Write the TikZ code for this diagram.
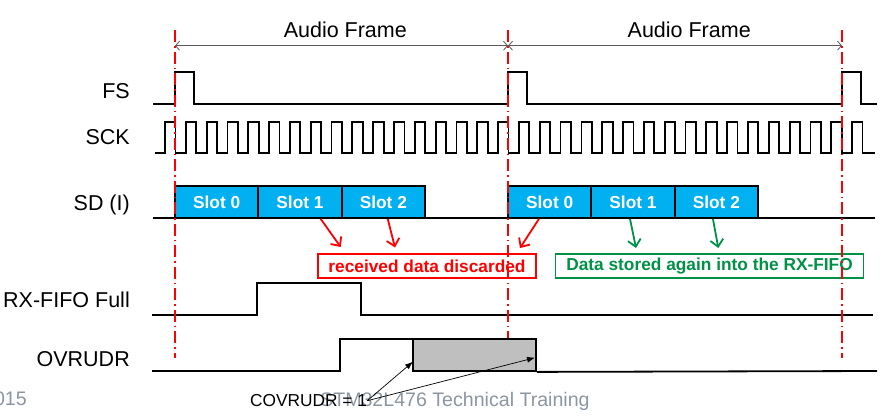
\documentclass[tikz,border=0pt]{standalone}
\usepackage{fontspec}
\setmainfont{Liberation Sans}
\usetikzlibrary{calc,arrows.meta,positioning}
\definecolor{slotblue}{RGB}{0,176,240}
\definecolor{dropred}{RGB}{255,0,0}
\definecolor{keepgreen}{RGB}{0,145,70}
\definecolor{footgray}{RGB}{140,150,160}
\definecolor{flaggray}{RGB}{191,191,191}
\def\sckperiod{20.82}

\begin{document}
\begin{tikzpicture}[x=1pt, y=-1pt,
		wave/.style={line width=1.8pt, line join=miter},
		sig/.style={anchor=base east, inner sep=0pt, font=\fontsize{21.5}{24}\selectfont},
		slot/.style={draw, line width=1.8pt, fill=slotblue, minimum width=83.33pt, minimum height=32pt, inner sep=0pt, text=white, font=\fontsize{17.3}{20}\selectfont\bfseries},
		note/.style={draw, line width=1.2pt, minimum height=24pt, inner sep=0pt, font=\fontsize{17.3}{20}\selectfont\bfseries},
		marker/.style={dropred, line width=1.5pt, dash pattern=on 12pt off 4pt on 1.5pt off 4pt},
		frameline/.style={black!65, line width=0.8pt, {Straight Barb[length=4pt,width=9pt]}-{Straight Barb[length=4pt,width=9pt]}},
		pick/.style={line width=1.8pt, -{Straight Barb[length=7pt,width=13pt]}},
		flagarrow/.style={line width=0.7pt, -{Latex[length=8pt,width=6pt]}},
		foot/.style={inner sep=0pt, text=footgray, font=\fontsize{19.6}{22}\selectfont}]
	%%%%% START %%%%%
	\useasboundingbox (0,0) rectangle (893,415);
	
	% signal names
	\node[sig] (labFS) at (130,98.3) {FS};
	\node[sig] (labSCK) at (130,144) {SCK};
	\node[sig] (labSD) at (130,210.7) {SD (I)};
	\node[sig] (labFull) at (130,307.3) {RX-FIFO Full};
	\node[sig] (labOvr) at (130,366.7) {OVRUDR};
	
	% FS
	\draw[wave] (153,104) foreach \x in {175,508,842} { -- (\x,104) -- (\x,71.7) -- (\x+19,71.7) -- (\x+19,104) } -- (877,104);
	
	% SCK
	\draw[wave] (155,153) foreach \k in {0,...,33} { -- ({165+\sckperiod*\k},153) -- ({165+\sckperiod*\k},122) -- ({175.4+\sckperiod*\k},122) -- ({175.4+\sckperiod*\k},153) } -- (875,153);
	
	% SD
	\draw[wave] (153,218) -- (875,218);
	\foreach \s in {0,1,2} {
		\node[slot] (slotA\s) at ({216.67+83.33*\s},202) {Slot \s};
		\node[slot] (slotB\s) at ({549.67+83.33*\s},202) {Slot \s};
	}
	
	% notes
	\node[note, dropred, minimum width=218pt] (noteDrop) at (427,266) {received data discarded};
	\node[note, keepgreen, minimum width=307.6pt] (noteKeep) at (709.5,266) {Data stored again into the RX-FIFO};
	
	\coordinate (dropA1) at (340.7,247);
	\coordinate (dropA2) at (395,247.5);
	\coordinate (dropB0) at (520,248);
	\coordinate (keepB1) at (636,248);
	\coordinate (keepB2) at (718.3,248);
	\draw[pick, dropred] ($(slotA1.south)+(20.7,0)$) -- (dropA1);
	\draw[pick, dropred] ($(slotA2.south)+(4.4,0)$) -- (dropA2);
	\draw[pick, dropred] ($(slotB0.south)+(-10.7,0)$) -- (dropB0);
	\draw[pick, keepgreen] ($(slotB1.south)+(-3,0)$) -- (keepB1);
	\draw[pick, keepgreen] ($(slotB2.south)+(-3.4,0)$) -- (keepB2);
	
	% RX-FIFO Full
	\draw[wave] (152,315) -| (257,283) -| (361,315) -- (873,315);
	
	% frame markers
	\foreach \m/\x in {A/175,B/508,C/842} {
		\coordinate (span\m) at (\x,45.7);
		\draw[marker] (\x,30) -- (\x,358);
	}
	\draw[frameline] (spanA) -- (spanB);
	\draw[frameline] (spanB) -- (spanC);
	\node[anchor=base, inner sep=0pt, font=\fontsize{21.5}{24}\selectfont] (frameA) at (345.3,37.3) {Audio Frame};
	\node[anchor=base, inner sep=0pt, font=\fontsize{21.5}{24}\selectfont] (frameB) at (689.2,37.3) {Audio Frame};
	
	% OVRUDR
	\draw[wave] (152,371) -| (340,339) -- (413,339);
	\node[draw, line width=1.8pt, fill=flaggray, minimum width=123pt, minimum height=32pt, inner sep=0pt] (ovrFlag) at (474.5,355) {};
	\draw[wave] (ovrFlag.south east) -- (877,371);
	
	% footer
	\node[foot, anchor=base east] (year) at (27,405) {015};
	\node[foot, anchor=base west] (footer) at (320,406.7) {STM32L476 Technical Training};
	
	\node[anchor=base west, inner sep=0pt, font=\fontsize{17.3}{20}\selectfont] (covr) at (250,406.7) {COVRUDR = 1};
	\coordinate (hitL) at (413,361.7);
	\coordinate (hitR) at (535,357.7);
	\draw[flagarrow] (covr.east) -- (hitL);
	\draw[flagarrow] (covr.east) -- (hitR);
	%%%%% END %%%%%
\end{tikzpicture}
\end{document}
